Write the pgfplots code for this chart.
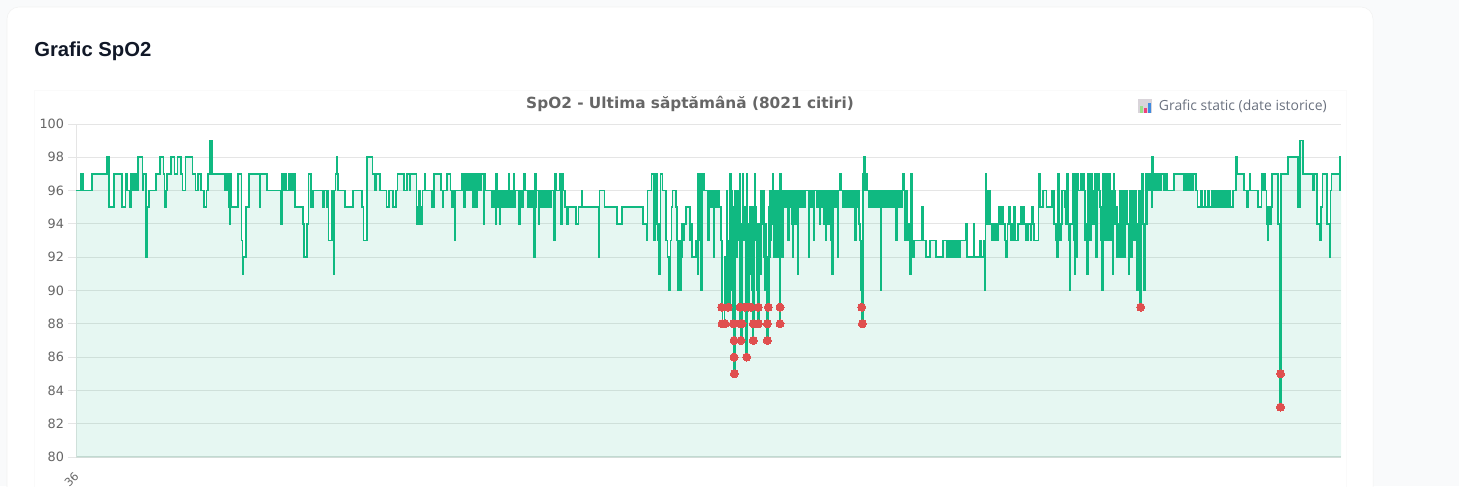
\documentclass[border=0pt]{standalone}
\usepackage{fontspec}
\setmainfont{DejaVu Sans}
\newfontfamily\inter{Open Sans}
\newfontfamily\head{Liberation Sans}
\usepackage{pgfplots}
\usepackage{pgfplotstable}
\pgfplotsset{compat=1.18}
\definecolor{spo}{HTML}{10B981}
\definecolor{dot}{HTML}{E04F4F}
\definecolor{gridc}{HTML}{E5E5E5}
\definecolor{basec}{HTML}{D6DEDB}
\definecolor{pagebg}{HTML}{F9FAFB}
\definecolor{mutedt}{HTML}{6B7280}
\definecolor{headt}{HTML}{111827}
\definecolor{emobg}{HTML}{D9D4DA}
\definecolor{emog}{HTML}{9BE08A}
\definecolor{emop}{HTML}{EF3F7A}
\definecolor{emob}{HTML}{3F8BE0}
\pgfplotstableread[row sep=\\]{
x y\\
76 96\\ 81 97\\ 83 96\\ 92 97\\ 107 98\\ 109 95\\ 114 97\\ 122 95\\ 125.5 97\\ 127 96\\ 129.5 95\\ 131 97\\ 132 96\\ 133 97\\ 134 96\\ 135 97\\ 136 96\\ 138 98\\ 142.5 96\\ 143.5 97\\ 145.7 92\\ 147.5 95\\ 149 96\\ 155.7 97\\ 160 98\\ 163.5 97\\ 164.5 95\\ 166 96\\ 167 97\\ 171 98\\ 174.5 97\\ 177.5 98\\ 181 97\\ 182.5 96\\ 185.5 98\\ 192.5 97\\ 195.5 96\\ 198 97\\ 201 96\\ 204 95\\ 206.5 96\\ 208 97\\ 210 99\\ 212 97\\ 225 96\\ 226 97\\ 227 96\\ 228 97\\ 229 95\\ 229.5 94\\ 230.5 97\\ 231.5 95\\ 238.3 97\\ 241.5 93\\ 242.5 91\\ 243.5 92\\ 246 95\\ 249 97\\ 259.5 95\\ 260.5 97\\ 266.7 96\\ 280.7 94\\ 281.7 97\\ 283 96\\ 284 97\\ 285.7 96\\ 289.3 97\\ 290 96\\ 291 97\\ 292 96\\ 293 97\\ 295 95\\ 303.3 94\\ 304.3 92\\ 306.7 94\\ 308.5 97\\ 311 95\\ 313.3 96\\ 323 95\\ 324 96\\ 326.5 95\\ 327.5 96\\ 328.5 93\\ 332 96\\ 333.5 91\\ 334.5 96\\ 335.5 97\\ 336.5 98\\ 337.5 97\\ 338 96\\ 345 95\\ 353 96\\
362 95\\ 363.5 93\\ 367 98\\ 372.5 97\\ 374.5 96\\ 376 97\\ 380 96\\ 386.5 95\\ 389 96\\ 393 95\\ 396 96\\ 397.5 97\\ 404 96\\ 406.7 97\\ 409.5 96\\ 410.5 97\\ 416.5 94\\ 418 95\\ 419 96\\ 420 94\\ 421 95\\ 421.5 94\\ 422.5 96\\ 424.5 97\\ 425.5 96\\ 431.7 95\\ 434 97\\ 441 96\\ 442.5 95\\ 443.5 96\\ 446.7 97\\ 450.5 96\\ 452.3 95\\ 453.2 96\\ 454.5 93\\ 455.5 96\\ 461.7 97\\ 462.5 96\\ 463.2 97\\ 464.2 95\\ 465 97\\ 466.7 96\\ 468.5 97\\ 469.5 96\\ 471 97\\ 473 95\\ 473.8 97\\ 476.3 95\\ 477.1 97\\ 478.5 96\\ 480 97\\ 480.8 96\\ 481.5 97\\ 483.7 94\\ 484.5 97\\ 485.3 96\\ 491.5 95\\ 492.3 96\\ 494 95\\ 494.8 96\\ 495.5 94\\ 496.2 97\\ 497 96\\ 498 95\\ 499 96\\ 499.6 94\\ 500.3 95\\ 501 96\\ 502 95\\ 503 96\\ 504 95\\ 505 96\\ 506 95\\ 507 96\\ 508.4 97\\ 509.2 95\\ 510 96\\ 511 95\\ 512 96\\ 513.4 97\\ 514.2 95\\ 515 96\\ 519 94\\ 520 96\\ 522 95\\ 523 96\\ 524 97\\ 525 96\\ 528 95\\ 529 96\\ 530 95\\ 531 96\\ 532 95\\ 533 96\\ 534 92\\ 535 97\\ 535.7 95\\ 536.4 96\\ 538.4 94\\ 539.3 96\\ 541 95\\ 541.8 96\\ 543.5 95\\ 544.3 96\\ 546 95\\ 546.8 96\\ 548.3 95\\ 549 96\\ 550 95\\ 550.7 96\\ 554 93\\ 555 97\\ 555.7 96\\ 560 97\\ 560.7 96\\ 561 94\\ 561.8 97\\ 563 96\\ 565 95\\ 567 94\\ 568 95\\ 576 94\\ 578.5 95\\ 581.7 96\\ 582.5 95\\ 598.7 92\\ 599.6 96\\ 604.5 95\\ 616.7 94\\ 621.7 95\\
643 94\\ 646.5 93\\ 647.5 96\\ 651.5 97\\ 654 93\\ 654.8 97\\ 655.5 94\\ 656.3 97\\ 657 94\\ 658 93\\ 659 91\\ 660 94\\ 660.5 97\\ 662.5 96\\ 666 93\\ 667.5 92\\ 669 90\\ 670.5 93\\ 671.5 95\\ 672.5 96\\ 676 95\\ 677 93\\ 677.5 90\\ 678.5 93\\ 680 90\\ 680.7 92\\ 681.7 94\\ 683 93\\ 684 94\\ 686 95\\ 690 93\\ 691 94\\ 692 92\\ 696 93\\ 696.5 92\\ 697.5 91\\ 698.3 97\\ 700 93\\ 701 90\\ 702.3 97\\ 704 96\\ 708 93\\ 709 96\\ 710 95\\ 711 96\\ 712 95\\ 713 96\\ 713.5 92\\ 714.5 96\\ 715 95\\ 716 96\\ 717 95\\ 718 96\\ 719 95\\ 721 93\\ 721.7 89\\ 722.5 88\\ 724.5 92\\ 725.5 89\\ 726.3 92\\ 726.9 96\\ 727.5 92\\ 728.3 89\\ 729 93\\ 729.7 89\\ 730 97\\ 730.7 90\\ 731.5 96\\ 732.5 88\\ 733.4 95\\ 734 85\\ 735 96\\ 735.5 93\\ 736 96\\ 736.5 92\\ 737 96\\ 737.5 93\\ 738 96\\ 738.6 95\\ 739.5 97\\ 740 88\\ 741 87\\ 742 94\\ 742.7 97\\ 743.4 94\\ 744 93\\ 744.7 95\\ 745.4 93\\ 746 86\\ 747 97\\ 747.6 94\\ 748.2 89\\ 749 92\\ 749.6 95\\ 750.2 91\\ 750.8 95\\ 751.4 90\\ 752 95\\ 752.6 87\\ 753.5 88\\ 754.2 95\\ 754.8 97\\ 755.3 93\\ 755.9 95\\ 756.5 92\\ 757 90\\ 757.6 94\\ 758.2 88\\ 759 92\\ 759.6 94\\ 760.2 91\\ 760.8 96\\ 761.4 94\\ 762 96\\ 762.6 94\\ 763.2 96\\ 763.8 92\\ 764.4 90\\ 765 92\\ 765.6 94\\ 766.2 90\\ 766.8 87\\ 767.8 92\\ 768.4 89\\ 769 95\\ 769.6 92\\ 770.2 96\\ 770.8 93\\ 771.4 96\\ 772 94\\ 772.6 97\\ 773.2 96\\ 773.8 92\\ 774.4 96\\ 775 93\\ 775.6 96\\ 776.2 92\\ 776.8 96\\ 777.4 94\\ 778 96\\ 778.6 92\\ 779.5 88\\ 780.3 97\\ 781 94\\ 781.6 96\\ 782.2 92\\ 782.8 96\\ 784 95\\ 785 96\\ 786.4 95\\ 787.4 96\\ 788.2 93\\ 788.8 96\\ 790 95\\ 790.8 96\\ 791.8 94\\ 792.4 96\\ 792.7 92\\ 793.4 96\\ 794.6 94\\ 795.2 96\\ 796.4 94\\ 797 96\\ 797.6 91\\ 798.5 96\\ 799.8 95\\ 800.6 96\\ 802 95\\ 802.8 96\\ 804.4 95\\ 805.2 96\\ 808.5 92\\ 809.3 96\\ 811 95\\ 811.8 96\\ 813.4 93\\ 814.2 96\\ 817 95\\ 817.8 96\\ 819.7 94\\ 820.4 96\\ 822 95\\ 822.8 96\\ 824 94\\ 824.7 96\\ 825.5 93\\ 826.3 94\\ 827 96\\ 828.8 94\\ 829.5 96\\ 831.3 93\\ 832 91\\ 833 96\\ 834.5 95\\ 835.3 96\\ 837 95\\ 837.5 92\\ 838.5 96\\ 840 97\\ 841 96\\ 842.5 95\\ 843.3 96\\ 845 95\\ 845.8 96\\ 847.5 95\\ 848.3 96\\ 850 95\\ 850.8 96\\ 852.5 95\\ 853.3 96\\ 855 93\\ 856 96\\ 857.5 95\\ 858.3 96\\ 859 94\\ 860 93\\ 861 90\\ 862 88\\ 863 97\\ 864 98\\ 864.8 96\\ 866 97\\ 867 96\\ 869 95\\ 870 96\\ 872 95\\ 873 96\\ 875 95\\ 876 96\\ 878 95\\ 879 96\\ 880.5 90\\ 881.5 96\\ 883 95\\ 884 96\\ 886 95\\ 887 96\\ 888.5 95\\ 889.5 96\\ 891 95\\ 892 96\\ 893.5 95\\ 894.5 96\\ 896 93\\ 897 96\\ 898.5 95\\ 899.5 96\\ 901 95\\ 902 96\\ 903 97\\ 904 96\\ 905 93\\ 906 96\\ 907 93\\ 909 94\\ 910 91\\ 911 97\\ 912 92\\ 914 93\\ 922.3 95\\ 923 93\\ 926 92\\ 930 93\\ 936 92\\ 943 93\\ 947 92\\ 948.5 93\\ 950 92\\ 951.5 93\\ 953 92\\ 954.5 93\\ 956 92\\ 957.5 93\\ 959 92\\ 960 93\\ 966.3 94\\ 967.3 92\\ 973.5 94\\ 974.5 92\\ 980 93\\ 980.7 92\\ 984 93\\ 984.5 90\\ 985.4 97\\ 986.5 94\\ 987.5 96\\ 988.5 94\\ 989.5 96\\ 990.5 94\\ 991.5 93\\ 993 94\\ 994 93\\ 996 94\\ 997 93\\ 998 94\\ 999.3 95\\ 1000.3 94\\ 1002 95\\ 1003 94\\ 1005 93\\ 1006 92\\ 1007.5 94\\ 1009 95\\ 1010 94\\ 1011 93\\ 1013 94\\ 1014 95\\ 1015.3 93\\ 1018 94\\ 1021 95\\ 1022 94\\ 1023 95\\ 1024 94\\ 1026 93\\ 1028 94\\ 1030.5 93\\ 1031.5 95\\ 1032.7 94\\ 1034 93\\ 1038.5 97\\ 1040 95\\ 1043 96\\ 1046.5 95\\ 1052 96\\ 1054 94\\ 1056 93\\ 1057 92\\ 1057.8 97\\ 1059 93\\ 1061 94\\ 1062 96\\ 1065 95\\ 1066 94\\ 1067 97\\ 1068 94\\ 1069 93\\ 1069.6 90\\ 1070.6 94\\ 1072 94\\ 1073 97\\ 1073.7 93\\ 1074.5 91\\ 1075.5 97\\ 1076.3 92\\ 1077.2 97\\ 1078 96\\ 1081 97\\ 1082 96\\ 1083 97\\ 1084 96\\ 1085 93\\ 1086 94\\ 1087.2 91\\ 1088.2 97\\ 1089 95\\ 1090 93\\ 1091 97\\ 1092 95\\ 1093 94\\ 1094 96\\ 1095 97\\ 1096 92\\ 1097.3 97\\ 1099 96\\ 1100 95\\ 1101 93\\ 1102.2 90\\ 1103.2 97\\ 1104 95\\ 1105 93\\ 1106 97\\ 1107 95\\ 1108 93\\ 1109 97\\ 1110 93\\ 1111 96\\ 1112.6 91\\ 1113.4 97\\ 1114.2 96\\ 1115 94\\ 1116 95\\ 1117 92\\ 1118 94\\ 1119 92\\ 1120 96\\ 1121 94\\ 1122 92\\ 1123 96\\ 1124 92\\ 1125 94\\ 1126 96\\ 1127 94\\ 1128.6 91\\ 1129.4 96\\ 1130 92\\ 1132 96\\ 1133 94\\ 1134 93\\ 1135 96\\ 1136 93\\ 1137 90\\ 1138 94\\ 1139 96\\ 1140 89\\ 1141.3 94\\ 1142 97\\ 1143 94\\ 1144 90\\ 1144.8 93\\ 1145.5 97\\ 1146.5 94\\ 1147.2 96\\ 1148 97\\ 1149 96\\ 1150 97\\ 1151.4 95\\ 1152.3 98\\ 1153 97\\ 1154 96\\ 1155 97\\ 1155.7 96\\ 1156.7 97\\ 1157.5 96\\ 1159 97\\ 1160 96\\ 1161.5 97\\ 1163.4 96\\ 1165 97\\ 1166.7 96\\ 1174.3 97\\ 1183.4 96\\ 1185 97\\ 1186.7 96\\ 1188.3 97\\ 1189.5 96\\ 1190 97\\ 1192 96\\ 1193 97\\ 1196 96\\ 1197.5 95\\ 1201 96\\ 1202 95\\ 1204.5 96\\ 1205.5 95\\ 1208 96\\ 1209 95\\ 1212 96\\ 1213 95\\ 1214.5 96\\ 1215.3 95\\ 1216.5 96\\ 1217.3 95\\ 1218.5 96\\ 1219.3 95\\ 1220.5 96\\ 1221.3 95\\ 1222.5 96\\ 1223.3 95\\ 1225 96\\ 1226 95\\ 1228 96\\ 1229 95\\ 1229.7 96\\ 1230.5 95\\ 1233 96\\ 1236 98\\ 1237 97\\ 1244 96\\ 1247.3 95\\ 1248.3 96\\ 1249.7 97\\ 1250.5 96\\ 1258 95\\ 1261.5 97\\ 1263 96\\ 1263.7 97\\ 1265 96\\ 1266.5 95\\ 1267 94\\ 1267.4 93\\ 1268 94\\ 1269 95\\ 1270 94\\ 1271 95\\ 1272 97\\ 1278 94\\ 1280 83\\ 1281 97\\ 1287.7 98\\ 1298.3 95\\ 1300.3 99\\ 1303.3 97\\ 1313 96\\ 1314 97\\ 1316.7 94\\ 1320 93\\ 1321.2 95\\ 1322.5 97\\ 1327 94\\ 1329.5 92\\ 1330.5 96\\ 1331.5 97\\ 1339.5 98\\ 1340.3 96\\ 1341 96\\
}\spo
\pgfplotstableread[row sep=\\]{
x y\\
721.7 89\\ 728.3 89\\ 740 89\\ 745 89\\ 748.5 89\\ 751 89\\ 758.3 89\\ 768.3 89\\ 780 89\\ 861.7 89\\ 1140.7 89\\
722 88\\ 725 88\\ 733.3 88\\ 740 88\\ 742 88\\ 753.3 88\\ 758.3 88\\ 767.3 88\\ 780 88\\ 862.3 88\\
734 87\\ 741 87\\ 753.3 87\\ 767.3 87\\
734 86\\ 746.7 86\\
734.3 85\\ 1280.5 85\\ 1280.5 83\\
}\lowpts
\begin{document}
\begin{tikzpicture}
\path[use as bounding box,clip] (0,0) rectangle (1094.25pt,-364.5pt);
\fill[pagebg] (0,0) rectangle (1094.25pt,-364.5pt);
\fill[white,draw=gray!10] (5.25pt,-5.25pt) [rounded corners=9pt] -- (1029.75pt,-5.25pt) -- (1029.75pt,-380pt) -- (5.25pt,-380pt) -- cycle;
\draw[draw=black!2,fill=white] (25.5pt,-68pt) rectangle (1009.5pt,-380pt);
\node[anchor=base west,inner sep=0pt,text=headt] at (25.5pt,-42.5pt) {\head\bfseries\fontsize{15.2}{18}\selectfont Grafic SpO2};
\node[anchor=base,inner sep=0pt,text=black!60] at (517.5pt,-81pt) {\bfseries\fontsize{11.5}{13}\selectfont SpO2 - Ultima săptămână (8021 citiri)};
\node[anchor=base west,inner sep=0pt,text=mutedt] at (869pt,-83pt) {\inter\fontsize{10.45}{12}\selectfont Grafic static (date istorice)};
\fill[emobg] (853.7pt,-74.5pt) rectangle (863.8pt,-84.5pt);
\fill[emog] (855pt,-79.5pt) rectangle (857.2pt,-84.5pt);
\fill[emop] (857.8pt,-81pt) rectangle (860.5pt,-84.5pt);
\fill[emob] (861pt,-77pt) rectangle (863.2pt,-84.5pt);
\begin{axis}[
  at={(57pt,-342.75pt)},anchor=south west,
  scale only axis,width=948.75pt,height=249.75pt,
  xmin=76,xmax=1341,ymin=80,ymax=100,
  axis lines*=left,axis line style={-,draw=gridc,line width=.75pt},
  x axis line style={draw=basec,line width=1pt},
  grid=major,xmajorgrids=false,ymajorgrids=true,
  major grid style={draw=gridc,line width=.75pt},
  ytick={80,82,...,100},
  xtick={76},xticklabels={36},
  tick align=outside,major tick length=6pt,
  tick style={draw=gridc,line width=.75pt},
  x tick style={draw=none},
  tick label style={text=black!60,font=\fontsize{9.6}{11}\selectfont},
  y tick label style={/pgf/number format/assume math mode=true,xshift=.5pt},
  xticklabel style={rotate=45,anchor=north east,inner sep=1pt,xshift=-3.6pt,yshift=-1pt,font=\fontsize{8.5}{10}\selectfont},
  clip mode=individual,
]
\addplot[const plot,draw=none,fill=spo,fill opacity=0.1,forget plot] table[x=x,y=y]{\spo} \closedcycle;
\addplot[const plot,draw=spo,line width=1.25pt,line join=miter,mark=none] table[x=x,y=y]{\spo};
\addplot[only marks,mark=*,mark size=3pt,draw=dot,fill=dot,mark options={draw=dot,fill=dot,line width=0pt}] table[x=x,y=y]{\lowpts};
\end{axis}
\end{tikzpicture}
\end{document}
